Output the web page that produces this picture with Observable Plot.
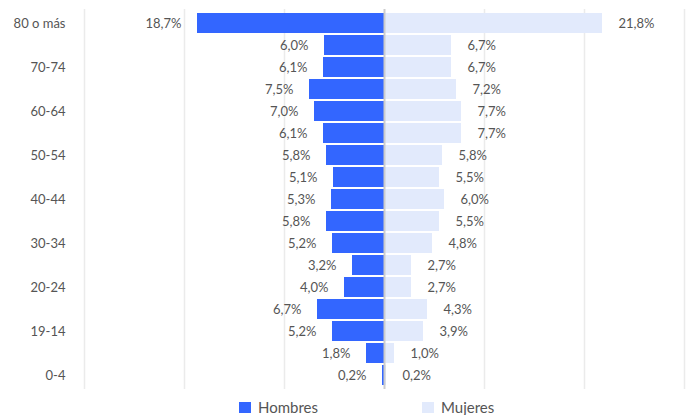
<!DOCTYPE html>
<html>
<head>
<meta charset="utf-8">
<script src="https://cdn.jsdelivr.net/npm/d3@7"></script>
<script src="https://cdn.jsdelivr.net/npm/@observablehq/plot@0.6"></script>
<style>
  html, body { margin: 0; padding: 0; background: #fff; }
  #wrap { position: relative; width: 687px; height: 415px; font-family: Lato, sans-serif; }
  .leg { position: absolute; display: flex; align-items: center; font-size: 15px; color: #555; }
  .sw { width: 12px; height: 11px; margin-right: 7px; }
</style>
</head>
<body>
<div id="wrap"></div>
<script>
const categories = ["80 o más","75-79","70-74","65-69","60-64","55-59","50-54","45-49","40-44","35-39","30-34","25-29","20-24","15-19","19-14","5-9","0-4"];
const tickLabels = ["80 o más","70-74","60-64","50-54","40-44","30-34","20-24","19-14","0-4"];
const hombres = [18.7, 6.0, 6.1, 7.5, 7.0, 6.1, 5.8, 5.1, 5.3, 5.8, 5.2, 3.2, 4.0, 6.7, 5.2, 1.8, 0.2];
const mujeres = [21.8, 6.7, 6.7, 7.2, 7.7, 7.7, 5.8, 5.5, 6.0, 5.5, 4.8, 2.7, 2.7, 4.3, 3.9, 1.0, 0.2];
const gridValues = [-30, -20, -10, 10, 20, 30];
const seriesNames = ["Hombres", "Mujeres"];
const colors = ["#3366ff", "#e2eafc"];

const data = categories.map((c, i) => ({cat: c, h: hombres[i], m: mujeres[i]}));
const fmt = v => v.toFixed(1).replace(".", ",") + "%";

const chart = Plot.plot({
  width: 687,
  height: 393,
  marginLeft: 84,
  marginRight: 3,
  marginTop: 9,
  marginBottom: 4,
  style: {fontFamily: "Lato, sans-serif", fontSize: "13px", color: "#555", background: "#fff"},
  x: {domain: [-30, 30], axis: null},
  y: {domain: categories, padding: 0.1, axis: null},
  marks: [
    Plot.ruleX(gridValues, {stroke: "#ebebeb", strokeWidth: 1.5}),
    Plot.barX(data, {x1: 0, x2: d => -d.h, y: "cat", fill: colors[0]}),
    Plot.barX(data, {x1: 0, x2: d => d.m, y: "cat", fill: colors[1]}),
    Plot.ruleX([0], {stroke: "#cccccc", strokeWidth: 2}),
    Plot.text(data, {x: d => -d.h, y: "cat", text: d => fmt(d.h), dx: -16, textAnchor: "end", fill: "#555", fontSize: 13}),
    Plot.text(data, {x: d => d.m, y: "cat", text: d => fmt(d.m), dx: 16, textAnchor: "start", fill: "#555", fontSize: 13}),
    Plot.axisY({ticks: tickLabels, tickSize: 0, tickPadding: 19, fontSize: 13, color: "#555", label: null})
  ]
});
const wrap = document.getElementById("wrap");
wrap.appendChild(chart);

const legPos = [239, 422];
seriesNames.forEach((name, i) => {
  const d = document.createElement("div");
  d.className = "leg";
  d.style.left = legPos[i] + "px";
  d.style.top = "398px";
  d.innerHTML = `<div class="sw" style="background:${colors[i]}"></div><span>${name}</span>`;
  wrap.appendChild(d);
});
</script>
</body>
</html>
